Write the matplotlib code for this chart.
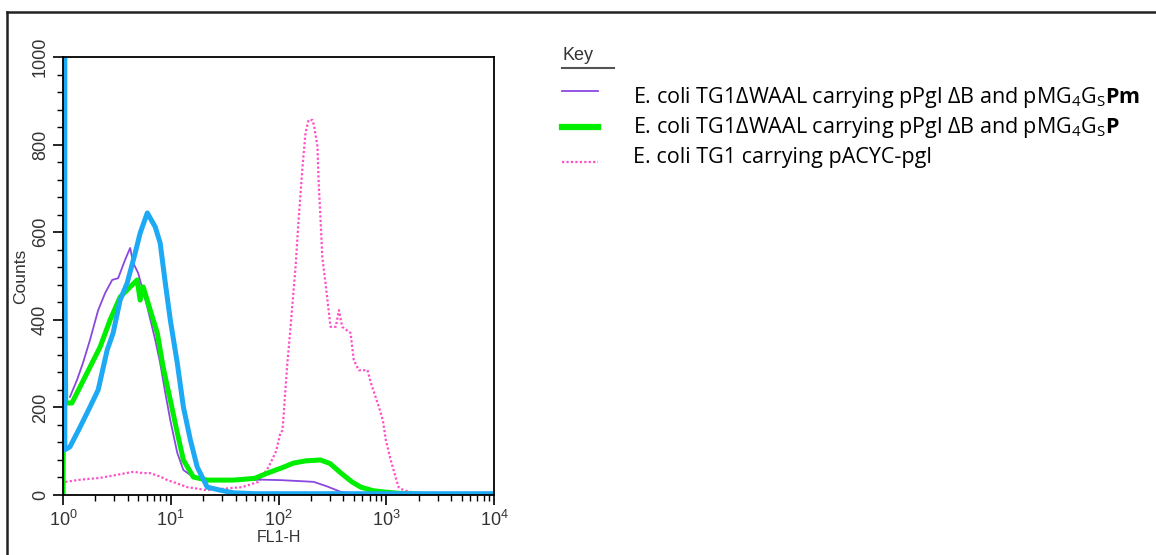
import numpy as np
import matplotlib.pyplot as plt
from matplotlib.lines import Line2D
from matplotlib.ticker import LogLocator, MultipleLocator, NullFormatter

plt.rcParams['font.family'] = 'Liberation Sans'
plt.rcParams['mathtext.fontset'] = 'custom'
plt.rcParams['mathtext.rm'] = 'Open Sans'
plt.rcParams['mathtext.bf'] = 'Open Sans:bold'

# FL1-H histogram traces (x = FL1-H, y = counts)
purple_x = [1.16, 1.35, 1.53, 1.78, 2.12, 2.46, 2.86, 3.25, 3.77, 4.2, 4.48, 4.98, 6.06, 7.18,
            7.98, 8.9, 9.9, 11.5, 13.1, 16.2, 25, 40, 70, 104, 150, 212, 280, 380, 500, 700, 1000]
purple_y = [224, 263, 301, 354, 422, 461, 491, 495, 537, 564, 530, 507, 429, 354,
            301, 233, 171, 96, 57, 41, 35, 33, 35, 34, 32, 30, 20, 7, 4, 2, 1]

green_x = [1.0, 1.03, 1.06, 1.21, 1.44, 1.78, 2.21, 2.74, 3.39, 4.2, 4.88, 5.2, 5.55, 6.45, 7.5,
           8.5, 9.9, 11.5, 13.1, 16.2, 21.8, 38, 60, 79, 110, 138, 180, 245, 300, 380, 480,
           580, 750, 945, 1300, 2000, 2200]
green_y = [0, 605, 210, 210, 247, 292, 338, 400, 452, 475, 491, 445, 475, 422, 370,
           292, 217, 142, 80, 41, 34, 34, 38, 50, 63, 73, 78, 80, 72, 50, 30,
           18, 10, 7, 4, 2, 1]

blue_x = [1.04, 1.04, 1.16, 1.44, 1.78, 2.12, 2.57, 2.92, 3.39, 3.94, 4.67, 5.2, 6.06, 7.18,
          7.98, 8.9, 9.9, 11.5, 13.1, 15.2, 17.6, 21.8, 28.8, 38.1, 60, 10000]
blue_y = [1200, 103, 110, 155, 201, 240, 331, 370, 445, 484, 552, 598, 644, 612,
          575, 484, 400, 301, 201, 126, 64, 18, 11, 5, 3, 3]

pink_x = [1.05, 1.2, 1.35, 1.6, 2.2, 3.0, 4.5, 5.5, 6.4, 8.0, 9.3, 11, 14.2, 21.8, 30, 46, 65,
          81, 95, 104, 109, 120, 128, 144, 153, 167, 178, 190, 207, 215, 230, 236, 245, 255,
          273, 304, 340, 364, 390, 466, 500, 555, 670, 720, 855, 930, 990, 1100, 1220, 1300,
          1450, 1680]
pink_y = [30, 32, 34, 36, 39, 45, 53, 50, 50, 42, 34, 28, 18, 11, 14, 18, 30,
          64, 100, 141, 148, 292, 370, 521, 621, 749, 826, 856, 856, 840, 795, 712, 635, 543,
          484, 384, 384, 422, 384, 370, 308, 285, 285, 256, 201, 171, 126, 80, 41, 18,
          11, 7]

legend_labels = [
    r'E. coli TG1ΔWAAL carrying pPgl ΔB and pMG$_4$G$_\mathrm{S}$$\mathbf{Pm}$',
    r'E. coli TG1ΔWAAL carrying pPgl ΔB and pMG$_4$G$_\mathrm{S}$$\mathbf{P}$',
    'E. coli TG1 carrying pACYC-pgl',
]

W, H = 1156, 555
fig = plt.figure(figsize=(W / 100, H / 100), dpi=100)
ax = fig.add_axes([63 / W, 1 - 495 / H, (494 - 63) / W, (495 - 57) / H])

pink_style = dict(color='#ff4fc8', lw=1.6, ls=(0, (1, 1)))
purple_style = dict(color='#8a48e0', lw=1.3)
green_style = dict(color='#00ee00', lw=3.6)
blue_style = dict(color='#1ea9f4', lw=3.6)

ax.plot(pink_x, pink_y, **pink_style)
ax.plot(purple_x, purple_y, **purple_style)
ax.plot(green_x, green_y, **green_style)
ax.plot(blue_x, blue_y, **blue_style)

ax.set_xscale('log')
ax.set_xlim(1, 1e4)
ax.set_ylim(0, 1000)
ax.xaxis.set_major_locator(LogLocator(base=10))
ax.xaxis.set_minor_locator(LogLocator(base=10, subs=np.arange(2, 10)))
ax.xaxis.set_minor_formatter(NullFormatter())
ax.yaxis.set_major_locator(MultipleLocator(200))
ax.yaxis.set_minor_locator(MultipleLocator(40))

ax.tick_params(which='major', direction='out', length=7, width=1.2, labelsize=13,
               labelcolor='#333333')
ax.tick_params(which='minor', direction='out', length=4, width=1.0)
ax.tick_params(axis='y', labelrotation=90, pad=3)
for lab in ax.get_yticklabels():
    lab.set_va('center')
for s in ax.spines.values():
    s.set_linewidth(1.3)

ax.set_ylabel('Counts', fontsize=12.5, color='#333333', labelpad=3)
ax.set_xlabel('FL1-H', fontsize=11.5, color='#333333', labelpad=0)

# key
fig.text(562 / W, 1 - 56 / H, 'Key', fontsize=13, color='#333333', va='center', ha='left')
fig.add_artist(Line2D([562 / W, 614 / W], [1 - 68 / H] * 2, color='#555555', lw=1.5))
for style, ly, ty, lab in zip([purple_style, green_style, pink_style], [91, 127, 162],
                              [97, 128, 158], legend_labels):
    st = dict(style)
    if st['lw'] > 3:
        st['lw'] = 4.5
    fig.text(633 / W, 1 - ty / H, lab, fontsize=15.5, family=['Open Sans', 'DejaVu Sans'],
             color='#000000', va='center', ha='left')
    fig.add_artist(Line2D([562 / W, 598 / W], [1 - ly / H] * 2, **st))

# frame of the original screenshot
fig.add_artist(Line2D([7 / W, 1], [1 - 12 / H] * 2, color='#222222', lw=1.8))
fig.add_artist(Line2D([7 / W, 7 / W], [0, 1 - 12 / H], color='#222222', lw=1.8))

fig.savefig('out.png', dpi=100)
